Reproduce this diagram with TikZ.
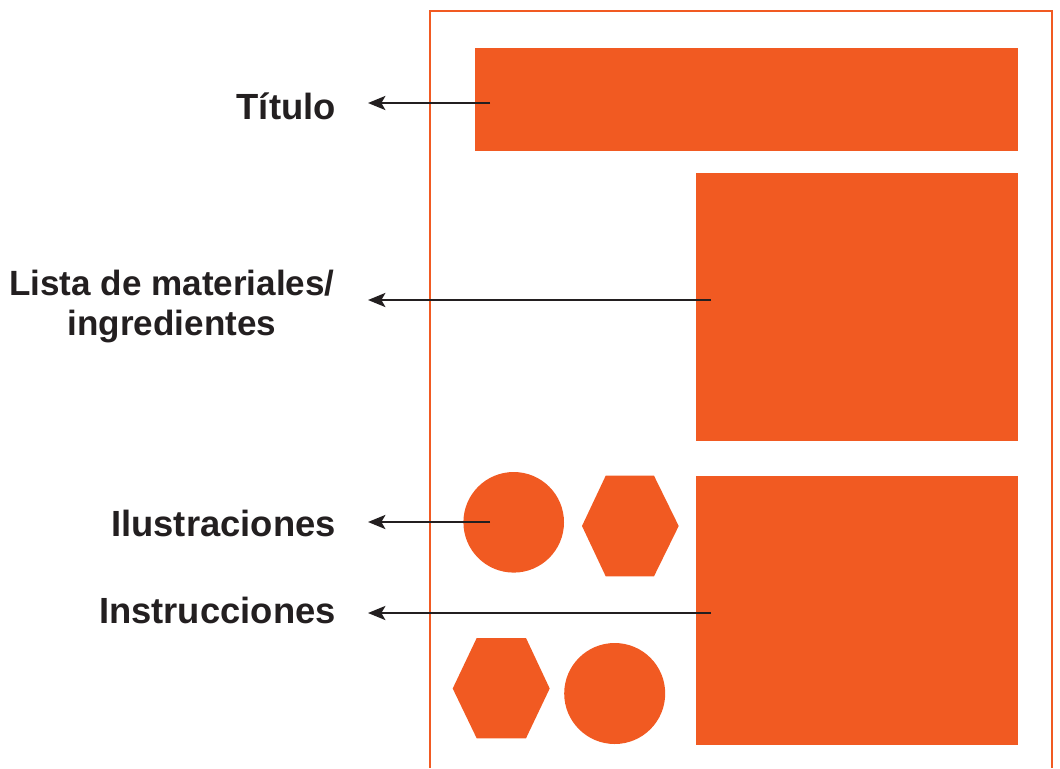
\documentclass[tikz,border=0pt]{standalone}
\usepackage{fontspec}
\setmainfont{Liberation Sans}
\usepackage{xcolor}
\usetikzlibrary{arrows.meta,positioning}
\definecolor{naranja}{HTML}{F15A22}
\definecolor{tinta}{HTML}{231F20}

\begin{document}
\begin{tikzpicture}[x=0.75pt, y=-0.75pt,
    font=\fontsize{27.3}{30}\selectfont\bfseries,
    bloque/.style={fill=naranja, draw=none},
    etiq/.style={text=tinta, inner sep=0pt},
    flecha/.style={draw=tinta, line width=2pt, -{Stealth[length=13pt, width=10.5pt, inset=3pt]}}]
    \useasboundingbox (0,0) rectangle (1060,768);

    % hoja
    \draw[naranja, line width=2.2pt] (430,768) -- (430,11) -- (1052,11) -- (1052,768);

    % bloques
    \path[bloque] (475,48) rectangle (1018,151);
    \path[bloque] (696,173) rectangle (1018,441);
    \path[bloque] (696,476) rectangle (1018,745);
    \fill[naranja] (513.7,522.3) circle[radius=50.3];
    \fill[naranja] (614.7,693.5) circle[radius=50.5];
    \fill[naranja] (605.7,475.7) -- (654,475.7) -- (678.7,526) -- (654,576.3) -- (605.7,576.3) -- (582,526) -- cycle;
    \fill[naranja] (476.7,638) -- (526,638) -- (549.7,688.5) -- (526,738.3) -- (476.7,738.3) -- (452.7,688.5) -- cycle;

    % etiquetas
    \node[etiq, anchor=base east] (tit) at (336,119) {Título};
    \node[etiq, anchor=base, font=\fontsize{26.3}{30}\selectfont\bfseries] (mat1) at (172,295) {Lista de materiales/};
    \node[etiq, anchor=base, font=\fontsize{26.3}{30}\selectfont\bfseries] (mat2) at (172,335) {ingredientes};
    \node[etiq, anchor=base east] (ilu) at (336,536) {Ilustraciones};
    \node[etiq, anchor=base east] (ins) at (336,623) {Instrucciones};

    % flechas
    \coordinate (sTit) at (490,103);
    \coordinate (sMat) at (711,300);
    \coordinate (sIlu) at (490,522);
    \coordinate (sIns) at (711,613);
    \coordinate (pTit) at (368,103);
    \coordinate (pMat) at (368,300);
    \coordinate (pIlu) at (368,522);
    \coordinate (pIns) at (368,613);
    \draw[flecha] (sTit) -- (pTit);
    \draw[flecha] (sMat) -- (pMat);
    \draw[flecha] (sIlu) -- (pIlu);
    \draw[flecha] (sIns) -- (pIns);
\end{tikzpicture}
\end{document}
